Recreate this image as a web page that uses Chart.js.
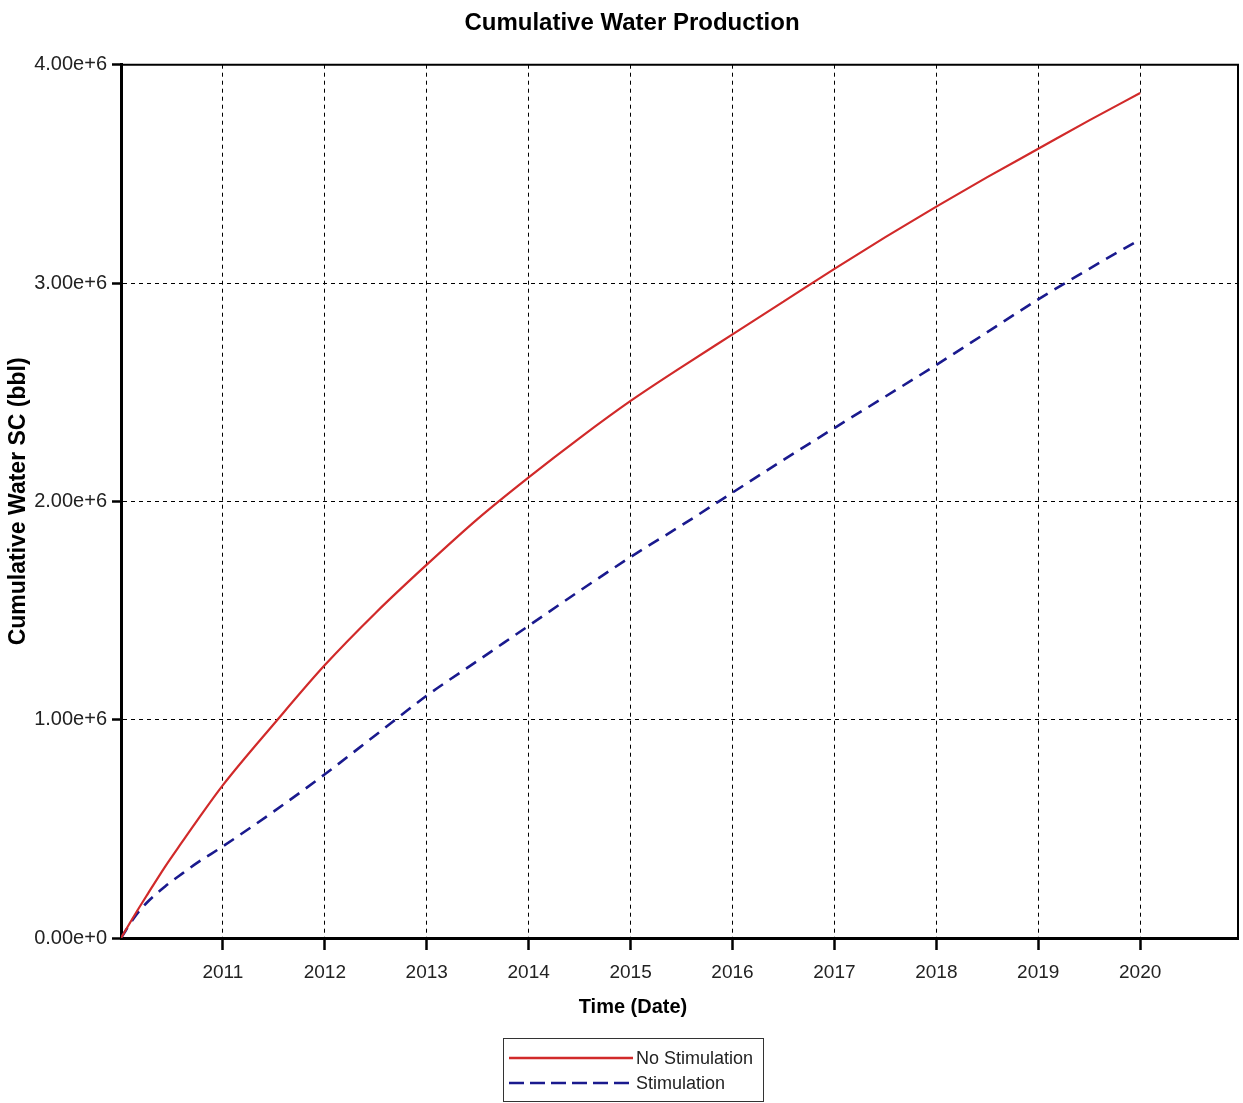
<!DOCTYPE html>
<html>
<head>
<meta charset="utf-8">
<script src="https://cdn.jsdelivr.net/npm/chart.js@4/dist/chart.umd.min.js"></script>
<style>
  html, body { margin: 0; padding: 0; background: #fff; }
  #wrap { position: relative; width: 1243px; height: 1103px; font-family: "Liberation Sans", Arial, sans-serif; }
  .ttl { position: absolute; transform: translateX(-50%); white-space: nowrap; font-weight: bold; color: #000; }
  #title { left: 632px; top: 8px; font-size: 24px; line-height: 28px; }
  #xtitle { left: 633px; top: 994px; font-size: 20px; line-height: 24px; }
  #legend { position: absolute; left: 503px; top: 1038px; width: 259px; height: 62px;
    border: 1px solid #333; background: #fff; font-size: 18px; color: #222; }
  .row { position: absolute; left: 5px; height: 24px; display: flex; align-items: center; white-space: nowrap; }
  .row svg { display: block; flex: none; }
  .row span { margin-left: 3px; line-height: 20px; }
</style>
</head>
<body>
<div id="wrap">
  <canvas id="c" width="1243" height="1103"></canvas>
  <div id="title" class="ttl">Cumulative Water Production</div>
  <div id="xtitle" class="ttl">Time (Date)</div>
  <div id="legend">
    <div class="row" style="top:7px"><svg width="124" height="6"><line x1="0" y1="3" x2="124" y2="3" stroke="#d12a2a" stroke-width="2.5"/></svg><span>No Stimulation</span></div>
    <div class="row" style="top:32px"><svg width="124" height="6"><line x1="0" y1="3" x2="124" y2="3" stroke="#1a1a8e" stroke-width="2.5" stroke-dasharray="15 6"/></svg><span>Stimulation</span></div>
  </div>
</div>
<script>
// ---- data ----
const years = [2010.0, 2010.14, 2010.26, 2010.43, 2010.6, 2010.75, 2011, 2011.5, 2012, 2012.5, 2013, 2013.5, 2014, 2014.5, 2015, 2015.5, 2016, 2016.5, 2017, 2017.5, 2018, 2018.5, 2019, 2019.5, 2020];
const noStimulation = [0, 0.11, 0.20, 0.325, 0.44, 0.54, 0.70, 0.98, 1.25, 1.49, 1.71, 1.92, 2.11, 2.29, 2.46, 2.615, 2.765, 2.915, 3.065, 3.21, 3.35, 3.485, 3.615, 3.745, 3.87]; // millions bbl
const stimulation   = [0, 0.10, 0.165, 0.235, 0.295, 0.345, 0.42, 0.58, 0.75, 0.93, 1.11, 1.27, 1.43, 1.59, 1.745, 1.89, 2.04, 2.19, 2.336, 2.48, 2.625, 2.775, 2.925, 3.065, 3.20]; // millions bbl
const xTickYears = [2011, 2012, 2013, 2014, 2015, 2016, 2017, 2018, 2019, 2020];
const yTicks = [0, 1e6, 2e6, 3e6, 4e6];
const seriesNames = ['No Stimulation', 'Stimulation'];

const SANS = '"Liberation Sans", Arial, sans-serif';

const toPoints = arr => years.map((y, i) => ({ x: y, y: arr[i] * 1e6 }));

const frame = {
  id: 'frame',
  afterDatasetsDraw(chart) {
    const { ctx, chartArea: a } = chart;
    ctx.save();
    ctx.strokeStyle = '#000';
    ctx.lineWidth = 2;
    ctx.setLineDash([]);
    ctx.beginPath();
    ctx.moveTo(a.left, a.top);
    ctx.lineTo(a.right, a.top);
    ctx.lineTo(a.right, a.bottom);
    ctx.stroke();
    ctx.restore();
  }
};

new Chart(document.getElementById('c'), {
  type: 'line',
  data: {
    datasets: [
      { label: seriesNames[0], data: toPoints(noStimulation), borderColor: '#d12a2a', borderWidth: 2.2,
        pointRadius: 0, cubicInterpolationMode: 'monotone', fill: false },
      { label: seriesNames[1], data: toPoints(stimulation), borderColor: '#1a1a8e', borderWidth: 2.6,
        borderDash: [12, 8], pointRadius: 0, cubicInterpolationMode: 'monotone', fill: false }
    ]
  },
  options: {
    responsive: false,
    animation: false,
    layout: { padding: { left: 0, right: 5, top: 64.7, bottom: 0 } },
    plugins: {
      legend: { display: false },
      tooltip: { enabled: false },
      title: { display: false }
    },
    scales: {
      x: {
        type: 'linear',
        min: 2010,
        max: 2020.96,
        afterBuildTicks: s => { s.ticks = xTickYears.map(v => ({ value: v })); },
        afterFit: s => { s.height = 165; },
        ticks: { color: '#222', font: { family: SANS, size: 19 }, padding: 11, maxRotation: 0,
                 callback: v => String(Math.round(v)) },
        grid: { color: '#000', lineWidth: 1, drawTicks: true, tickLength: 12, tickWidth: 2.5, tickColor: '#000' },
        border: { display: true, color: '#000', width: 3, dash: [4, 4] },
        title: { display: false }
      },
      y: {
        type: 'linear',
        min: 0,
        max: 4e6,
        afterBuildTicks: s => { s.ticks = yTicks.map(v => ({ value: v })); },
        afterFit: s => { s.width = 121; },
        ticks: { color: '#222', font: { family: SANS, size: 20 }, padding: 5,
                 callback: v => v === 0 ? '0.00e+0' : (v / 1e6).toFixed(2) + 'e+6' },
        grid: { color: '#000', lineWidth: 1, drawTicks: true, tickLength: 9, tickWidth: 2.5, tickColor: '#000' },
        border: { display: true, color: '#000', width: 3, dash: [4, 4] },
        title: { display: true, text: 'Cumulative Water SC (bbl)', color: '#000',
                 font: { family: SANS, size: 23, weight: 'bold', lineHeight: 1.2 },
                 padding: { top: 5, bottom: 0 } }
      }
    }
  },
  plugins: [frame]
});
</script>
</body>
</html>
